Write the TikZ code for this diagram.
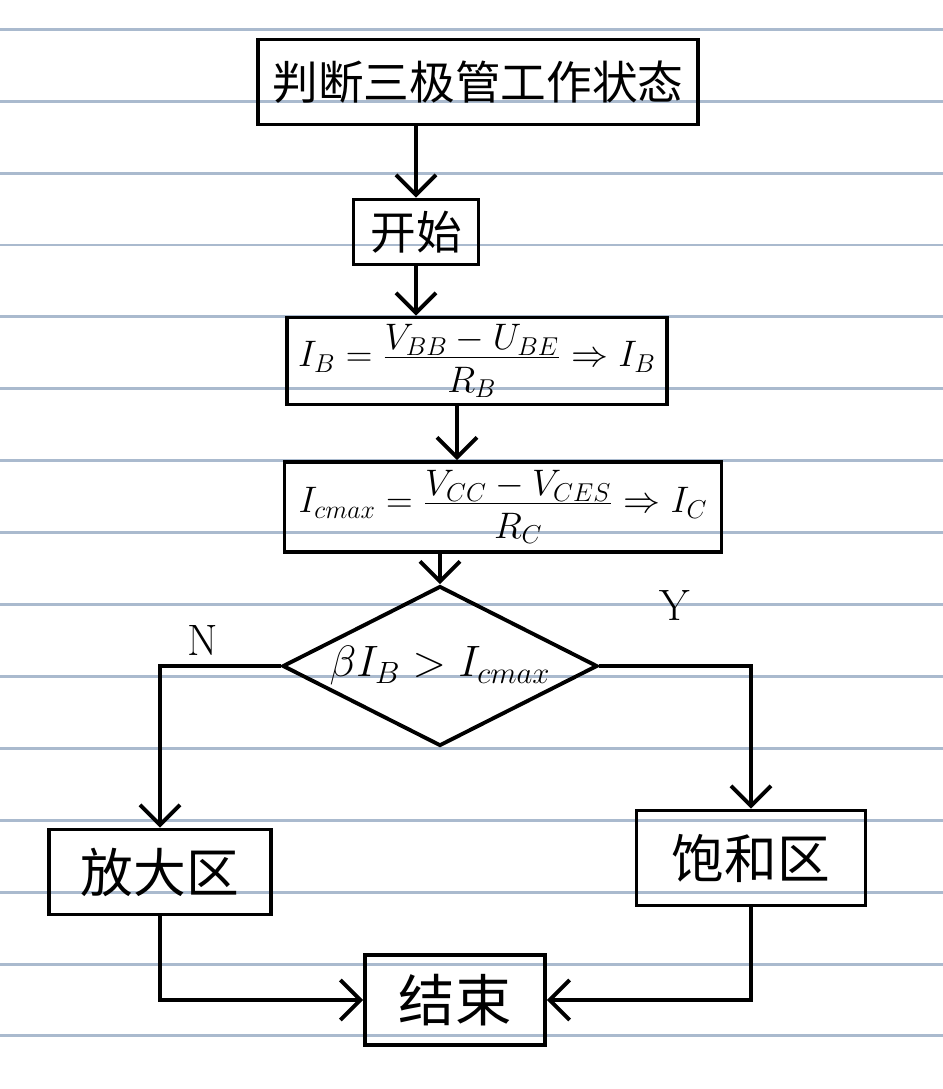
\documentclass[tikz,border=0pt]{standalone}
\usepackage{fix-cm}
\usepackage{fontspec}
\newfontfamily\cjk{Noto Sans CJK SC}
\usetikzlibrary{arrows.meta,calc,shapes.geometric}
\definecolor{ruleblue}{RGB}{170,186,206}
\newcommand\bigfrac[2]{\frac{\textstyle #1\rule[-4pt]{0pt}{4pt}}{\textstyle\rule{0pt}{19pt}#2}}

\begin{document}
\begin{tikzpicture}[x=0.02cm,y=-0.02cm,
  box/.style={draw,line width=2.2pt,rectangle,inner sep=2pt},
  arr/.style={line width=2.2pt,-{Straight Barb[length=4mm,width=8mm]}},
  rule/.style={ruleblue,line width=1.7pt},
  zh/.style={font=\cjk\fontsize{26}{30}\selectfont},
  fml/.style={font=\fontsize{21}{25}\selectfont}]
\useasboundingbox (0,0) rectangle (943,1089);
\fill[white] (0,0) rectangle (943,1089);
\foreach \k in {0,...,14}
  \draw[rule] (0,{29.3+71.9*\k}) -- (943,{29.3+71.9*\k});

\node[box,zh,minimum width=8.8cm,minimum height=1.7cm] (title) at (478,82) {判断三极管工作状态};
\node[box,zh,minimum width=2.5cm,minimum height=1.3cm] (start) at (416,232) {开始};
\node[box,fml,inner xsep=3pt,inner ysep=0pt,minimum width=7.6cm,minimum height=1.74cm] (ib) at (477,361)
  {$I_B=\bigfrac{V_{BB}-U_{BE}}{R_B}\Rightarrow I_B$};
\node[box,fml,inner xsep=3pt,inner ysep=0pt,minimum width=8.74cm,minimum height=1.8cm] (ic) at (503,507)
  {$I_{cmax}=\bigfrac{V_{CC}-V_{CES}}{R_C}\Rightarrow I_C$};
\node[diamond,draw,line width=2.2pt,aspect=2,inner sep=0pt,font=\fontsize{25}{30}\selectfont,
  minimum width=6.3cm,minimum height=3.2cm] (dec) at (440,666)
  {$\beta I_B > I_{cmax}$};
\node[font=\fontsize{25}{30}\selectfont] (no) at (203,640) {N};
\node[font=\fontsize{25}{30}\selectfont] (yes) at (675,605) {Y};

\node[box,zh,font=\cjk\fontsize{30}{34}\selectfont,minimum width=4.44cm,minimum height=1.7cm] (amp) at (160,872) {放大区};
\node[box,zh,font=\cjk\fontsize{30}{34}\selectfont,minimum width=4.58cm,minimum height=1.9cm] (sat) at (751,858) {饱和区};
\node[box,zh,font=\cjk\fontsize{32}{36}\selectfont,minimum width=3.6cm,minimum height=1.8cm] (end) at (455,1000) {结束};

\draw[arr] (title.south -| start.north) -- (start.north);
\draw[arr] (start.south) -- (start.south |- ib.north);
\draw[arr] ([xshift=-0.4cm]ib.south) -- ([xshift=-0.4cm]ib.south |- ic.north);
\draw[arr] (ic.south -| dec.north) -- (dec.north);
\draw[arr] (dec.west) -- (dec.west -| amp.north) -- (amp.north);
\draw[arr] (dec.east) -- (dec.east -| sat.north) -- (sat.north);
\draw[arr] (amp.south) |- (end.west);
\draw[arr] (sat.south) |- (end.east);
\end{tikzpicture}
\end{document}
